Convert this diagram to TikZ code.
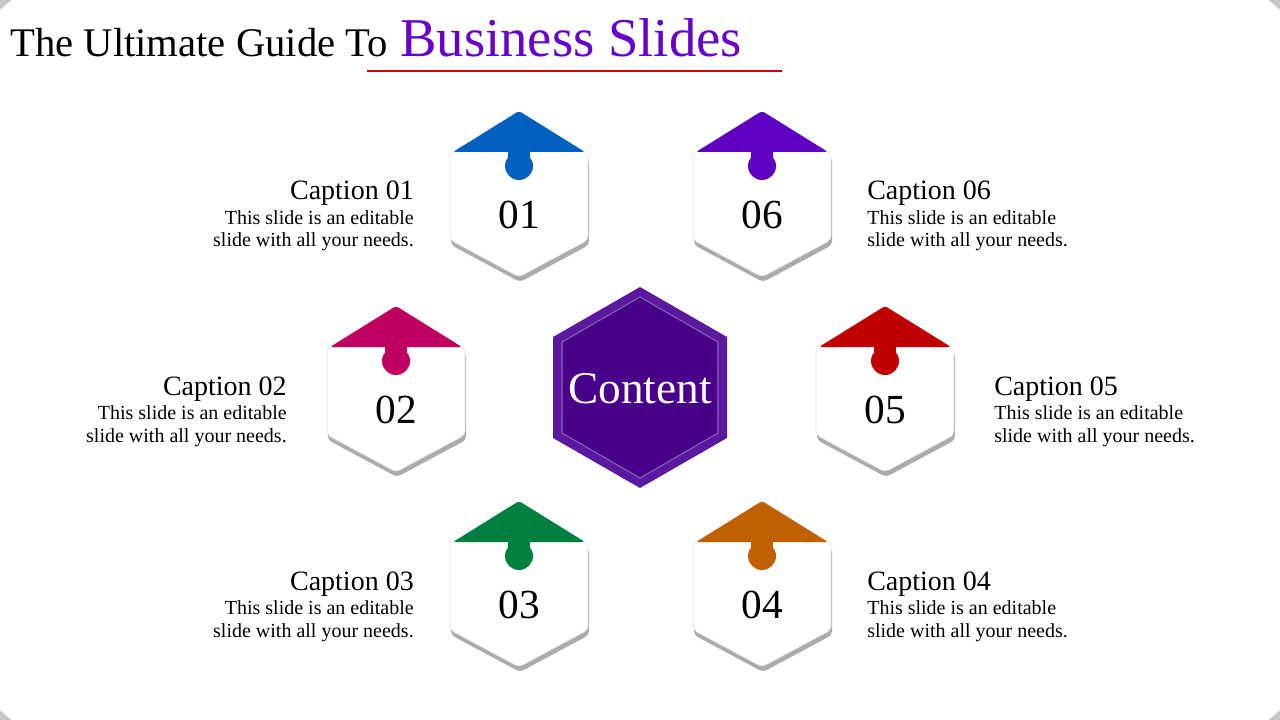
\documentclass[tikz,border=0pt]{standalone}
\usepackage{fontspec}
\setmainfont{Liberation Serif}
\definecolor{c1}{HTML}{0060C0}
\definecolor{c2}{HTML}{C00060}
\definecolor{c3}{HTML}{008040}
\definecolor{c4}{HTML}{C06000}
\definecolor{c5}{HTML}{C00000}
\definecolor{c6}{HTML}{6000C0}
\definecolor{ttl}{HTML}{6600CC}
\definecolor{cont}{HTML}{48008A}
\definecolor{contb}{HTML}{5A1AA0}
\pgfdeclareradialshading{vig}{\pgfpoint{0bp}{0bp}}{color(0bp)=(white); color(30bp)=(white); color(50bp)=(black!22)}
\tikzset{
 captxt/.style={font=\fontsize{21}{22}\selectfont, inner sep=0pt},
 bodytxt/.style={font=\fontsize{15}{17}\selectfont, inner sep=0pt},
 numtxt/.style={font=\fontsize{31}{31}\selectfont, inner sep=0pt}
}
\newcommand{\hexa}[5]{%
 \fill[black!60,opacity=0.55,rounded corners=3] (#2-68,#3+47) -- (#2+70,#3+47) -- (#2+70,#3+134) -- (#2+1,#3+171) -- (#2-68,#3+134) -- cycle;
 \fill[white,draw=black!12,line width=0.4pt,rounded corners=3] (#2,#3+40) -- (#2+69,#3+41) -- (#2+69,#3+129) -- (#2,#3+166) -- (#2-69,#3+129) -- (#2-69,#3+41) -- cycle;
 \fill[#4,rounded corners=2] (#2,#3) -- (#2+66,#3+41) -- (#2-66,#3+41) -- cycle;
 \fill[#4] (#2-11,#3+40) rectangle (#2+11,#3+52);
 \fill[#4] (#2,#3+55) circle (14);
 \node[numtxt] (#1) at (#2,#3+104) {#5};
}
\begin{document}
\begin{tikzpicture}[x=0.75pt,y=-0.75pt]
\useasboundingbox (0,0) rectangle (1280,720);
\fill[black!22] (0,0) rectangle (1280,720);
\path[shading=vig] (640,360) ellipse (820 and 560);
\node[anchor=base west, inner sep=0pt, font=\fontsize{30.5}{31}\selectfont] (t1) at (10,57) {The Ultimate Guide To};
\node[anchor=base west, inner sep=0pt, font=\fontsize{41}{41}\selectfont, text=ttl] (t2) at (400,57) {Business Slides};
\draw[red!80!black, line width=1.5pt] (367,71) -- (782,71);
% content
\fill[contb] (640,287) -- (727,337) -- (727,438) -- (640,488) -- (553,438) -- (553,337) -- cycle;
\fill[cont, draw=contb!70!white, line width=0.8pt] (640,297) -- (718,342) -- (718,433) -- (640,478) -- (562,433) -- (562,342) -- cycle;
\node[text=white, font=\fontsize{34}{34}\selectfont, inner sep=0pt] (content) at (640,389) {Content};
\hexa{h1}{519}{111}{c1}{01}
\hexa{h6}{762}{111}{c6}{06}
\hexa{h2}{396}{306}{c2}{02}
\hexa{h5}{885}{306}{c5}{05}
\hexa{h3}{519}{501}{c3}{03}
\hexa{h4}{762}{501}{c4}{04}
% captions left
\foreach \n/\x/\y in {01/414/111,02/287/306,03/414/501}{
 \node[captxt,anchor=base east] at (\x,\y+89) {Caption \n};
 \node[bodytxt,anchor=base east] at (\x,\y+113) {This slide is an editable};
 \node[bodytxt,anchor=base east] at (\x,\y+136) {slide with all your needs.};
}
\foreach \n/\x/\y in {06/867/111,05/994/306,04/867/501}{
 \node[captxt,anchor=base west] at (\x,\y+89) {Caption \n};
 \node[bodytxt,anchor=base west] at (\x,\y+113) {This slide is an editable};
 \node[bodytxt,anchor=base west] at (\x,\y+136) {slide with all your needs.};
}
\end{tikzpicture}
\end{document}
